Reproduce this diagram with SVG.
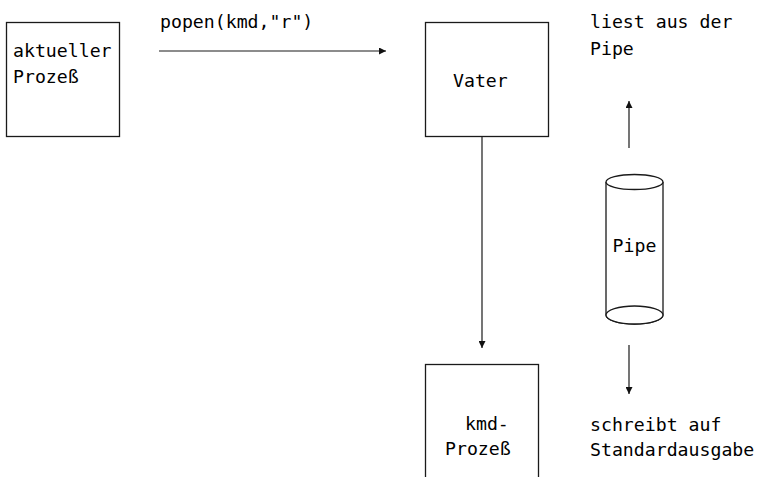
<svg xmlns="http://www.w3.org/2000/svg" width="759" height="477" viewBox="0 0 759 477">
  <style>
    .box { fill: #fff; stroke: #1a1a1a; stroke-width: 1.3; }
    .lbl { font-family: "DejaVu Sans Mono", "Liberation Mono", monospace; font-size: 18.2px; fill: #000; }
    .edge { stroke: #1a1a1a; stroke-width: 1.2; fill: none; }
  </style>
  <defs>
    <marker id="arrow" viewBox="0 0 10 10" refX="10" refY="5" markerWidth="7" markerHeight="7" markerUnits="userSpaceOnUse" orient="auto">
      <path d="M0,0 L10,5 L0,10 z" fill="#111"/>
    </marker>
  </defs>

  <rect width="759" height="477" fill="#fff"/>

  <g id="aktueller-prozess">
    <rect class="box" x="6.5" y="22.5" width="113" height="114"/>
    <text class="lbl" x="13" y="57">aktueller</text>
    <text class="lbl" x="13" y="83">Prozeß</text>
  </g>

  <g id="vater">
    <rect class="box" x="425.5" y="22.5" width="123" height="114"/>
    <text class="lbl" x="453" y="87">Vater</text>
  </g>

  <g id="kmd-prozess">
    <rect class="box" x="425.5" y="364.5" width="113" height="130"/>
    <text class="lbl" x="465" y="430">kmd-</text>
    <text class="lbl" x="445" y="455">Prozeß</text>
  </g>

  <g id="pipe">
    <path class="box" d="M606,182 L606,315 A28.5,9 0 0 0 663,315 L663,182"/>
    <ellipse class="box" cx="634.5" cy="182" rx="28.5" ry="7.5"/>
    <ellipse class="box" cx="634.5" cy="315" rx="28.5" ry="9"/>
    <text class="lbl" x="634.5" y="252" text-anchor="middle">Pipe</text>
  </g>

  <g id="labels">
    <text class="lbl" x="590" y="28">liest aus der</text>
    <text class="lbl" x="590" y="55">Pipe</text>
    <text class="lbl" x="590" y="431">schreibt auf</text>
    <text class="lbl" x="590" y="456">Standardausgabe</text>
  </g>

  <g id="connectors">
    <line class="edge" x1="159" y1="51" x2="386" y2="51" marker-end="url(#arrow)"/>
    <text class="lbl" x="160" y="28">popen(kmd,"r")</text>
    <line class="edge" x1="482" y1="137" x2="482" y2="348" marker-end="url(#arrow)"/>
    <line class="edge" x1="629" y1="148" x2="629" y2="101" marker-end="url(#arrow)"/>
    <line class="edge" x1="629" y1="345" x2="629" y2="394" marker-end="url(#arrow)"/>
  </g>
</svg>
